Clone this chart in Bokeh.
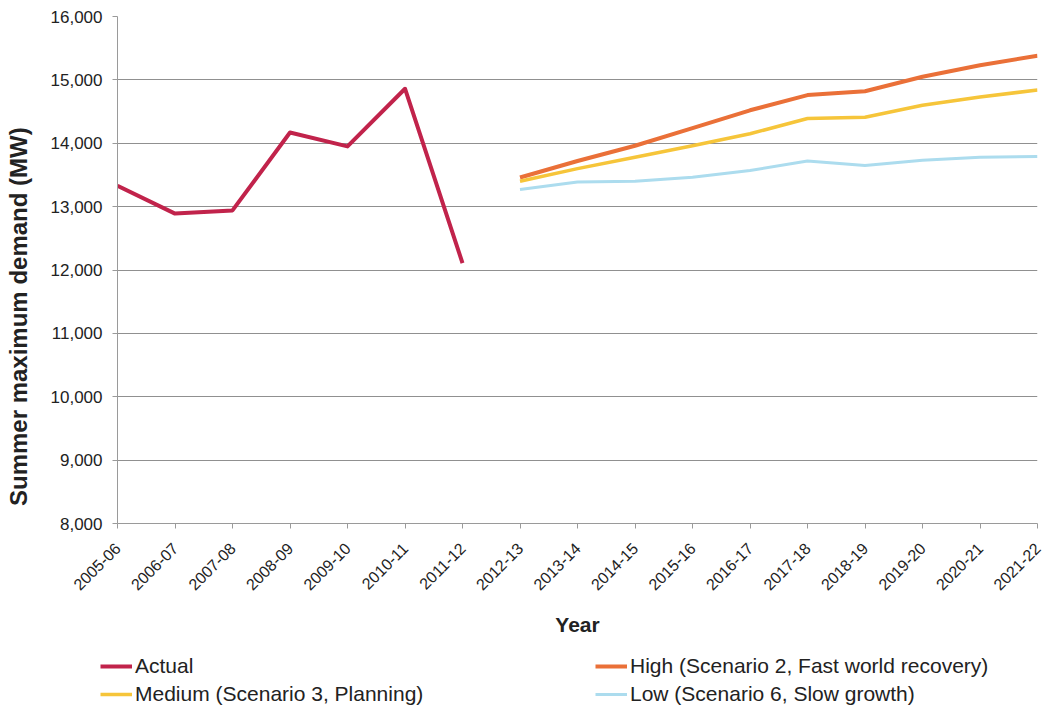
from bokeh.plotting import figure
from bokeh.models import Range1d, FixedTicker, NumeralTickFormatter, Legend, LegendItem
from bokeh.embed import file_html
from bokeh.resources import INLINE
import math

years = ["2005-06", "2006-07", "2007-08", "2008-09", "2009-10", "2010-11", "2011-12",
         "2012-13", "2013-14", "2014-15", "2015-16", "2016-17", "2017-18", "2018-19",
         "2019-20", "2020-21", "2021-22"]
actual_years = years[:7]
actual = [13330, 12890, 12940, 14170, 13950, 14860, 12110]
forecast_years = years[7:]
high = [13460, 13720, 13960, 14240, 14520, 14760, 14820, 15050, 15230, 15380]
medium = [13400, 13600, 13780, 13960, 14150, 14390, 14410, 14600, 14730, 14840]
low = [13270, 13390, 13400, 13465, 13570, 13720, 13650, 13730, 13780, 13790]
series_labels = ["Actual", "High (Scenario 2, Fast world recovery)",
                 "Medium (Scenario 3, Planning)", "Low (Scenario 6, Slow growth)"]

FONT = "Liberation Sans"
STYLES = [dict(line_color="#c1234b", line_width=4),
          dict(line_color="#ea7038", line_width=4),
          dict(line_color="#f6c53a", line_width=3.5),
          dict(line_color="#acdcee", line_width=3)]

p = figure(width=1044, height=645, output_backend="svg", toolbar_location=None,
           x_range=Range1d(0, len(years) - 1), y_range=Range1d(8000, 16000),
           min_border_left=117, min_border_right=7, min_border_top=16, min_border_bottom=122)
p.outline_line_color = None
p.background_fill_color = "white"

ax = [years.index(y) for y in actual_years]
fx = [years.index(y) for y in forecast_years]

p.line(ax, actual, line_join="round", **STYLES[0])
p.line(fx, high, line_join="round", **STYLES[1])
p.line(fx, medium, line_join="round", **STYLES[2])
p.line(fx, low, line_join="round", **STYLES[3])

# x axis
p.xaxis.ticker = FixedTicker(ticks=list(range(len(years))))
p.xaxis.major_label_overrides = {i: y for i, y in enumerate(years)}
p.xaxis.major_label_orientation = math.pi / 4
p.xaxis.minor_tick_line_color = None
p.xaxis.major_tick_out = 5
p.xaxis.major_tick_in = 0
p.xaxis.axis_line_color = "#9a9a9a"
p.xaxis.major_tick_line_color = "#9a9a9a"
p.xaxis.major_label_text_font = FONT
p.xaxis.major_label_text_font_size = "16px"
p.xaxis.major_label_text_color = "#222222"
p.xaxis.major_label_standoff = 17
p.xaxis.axis_label = "Year"
p.xaxis.axis_label_text_font = FONT
p.xaxis.axis_label_text_font_size = "21px"
p.xaxis.axis_label_text_font_style = "bold"
p.xaxis.axis_label_text_color = "#222222"
p.xaxis.axis_label_standoff = 14

# y axis
p.yaxis.ticker = FixedTicker(ticks=list(range(8000, 16001, 1000)))
p.yaxis.formatter = NumeralTickFormatter(format="0,0")
p.yaxis.minor_tick_line_color = None
p.yaxis.major_tick_out = 5
p.yaxis.major_tick_in = 0
p.yaxis.axis_line_color = "#9a9a9a"
p.yaxis.major_tick_line_color = "#9a9a9a"
p.yaxis.major_label_text_font = FONT
p.yaxis.major_label_text_font_size = "17px"
p.yaxis.major_label_text_color = "#222222"
p.yaxis.major_label_standoff = 10
p.yaxis.axis_label = "Summer maximum demand (MW)" + "\u00a0" * 14
p.yaxis.axis_label_text_font = FONT
p.yaxis.axis_label_text_font_size = "24px"
p.yaxis.axis_label_text_font_style = "bold"
p.yaxis.axis_label_text_color = "#222222"
p.yaxis.axis_label_standoff = 16

p.xgrid.grid_line_color = None
p.ygrid.grid_line_color = "#909090"
p.ygrid.grid_line_width = 1

# legend strip below the chart (separate root, so its frame starts at the left edge)
lg = figure(width=1044, height=62, output_backend="svg", toolbar_location=None,
            x_axis_type=None, y_axis_type=None, x_range=Range1d(0, 1), y_range=Range1d(0, 1),
            min_border_left=0, min_border_right=0, min_border_top=0, min_border_bottom=0)
lg.outline_line_color = None
lg.grid.grid_line_color = None
items = []
for lab, st in zip(series_labels, STYLES):
    r = lg.line([5, 6], [5, 6], **st)
    items.append(LegendItem(label=lab, renderers=[r]))

legend = Legend(items=items, orientation="horizontal", nrows=2, location=(100, 1))
legend.label_text_font = FONT
legend.label_text_font_size = "21px"
legend.label_text_color = "#222222"
legend.glyph_width = 32
legend.glyph_height = 22
legend.label_height = 22
legend.label_standoff = 3
legend.label_width = 456
legend.spacing = 4
legend.padding = 0
legend.margin = 0
legend.border_line_color = None
legend.background_fill_alpha = 0
lg.add_layout(legend, "center")

open("out.html", "w").write(file_html([p, lg], INLINE))
